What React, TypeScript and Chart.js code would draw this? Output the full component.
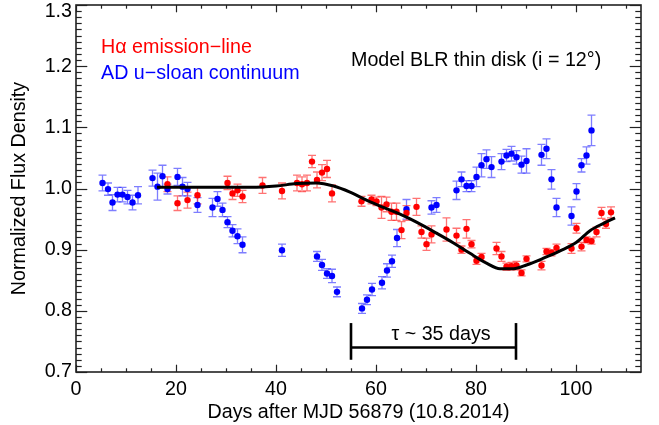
import React, { useEffect, useRef } from 'react';
import { Chart, registerables } from 'chart.js';

Chart.register(...registerables);

const FONT = '"Liberation Sans", Arial, Helvetica, sans-serif';
const FS = 19.7;

// ---- Data ----
const blueDays = [5.3, 6.4, 7.3, 8.3, 9.3, 10.3, 11.3, 12.4, 15.3, 16.3, 17.3, 18.3, 20.3, 21.3, 22.3, 24.3, 27.3, 28.3, 29.3, 30.3, 31.3, 32.3, 33.3, 41.2, 48.2, 49.2, 50.2, 51.2, 52.2, 57.2, 58.2, 59.2, 61.2, 62.2, 63.2, 64.2, 66.1, 71.1, 72.1, 76.1, 77.1, 78.1, 79.1, 80.1, 81.1, 82.1, 83.1, 85.1, 86.1, 87.1, 88.1, 89.1, 90.1, 93.1, 94.1, 95.1, 96.1, 99.1, 100.1, 101.1, 102.1, 103.1];
const blueFlux = [1.009, 0.999, 0.977, 0.99, 0.99, 0.986, 0.977, 0.989, 1.017, 1.003, 1.02, 0.999, 1.019, 1.003, 0.999, 0.973, 0.969, 0.983, 0.965, 0.945, 0.931, 0.922, 0.908, 0.899, 0.889, 0.875, 0.861, 0.857, 0.831, 0.804, 0.818, 0.835, 0.846, 0.866, 0.881, 0.919, 0.966, 0.969, 0.973, 0.997, 1.015, 1.004, 1.004, 1.019, 1.038, 1.048, 1.035, 1.044, 1.054, 1.057, 1.051, 1.039, 1.045, 1.055, 1.065, 1.015, 0.969, 0.955, 0.995, 1.038, 1.054, 1.095];
const blueErr = [0.013, 0.01, 0.013, 0.012, 0.012, 0.011, 0.012, 0.014, 0.013, 0.022, 0.018, 0.008, 0.014, 0.015, 0.011, 0.012, 0.015, 0.012, 0.011, 0.009, 0.01, 0.012, 0.013, 0.01, 0.008, 0.009, 0.008, 0.011, 0.008, 0.008, 0.008, 0.01, 0.01, 0.011, 0.01, 0.014, 0.016, 0.011, 0.012, 0.015, 0.012, 0.009, 0.009, 0.016, 0.019, 0.015, 0.017, 0.013, 0.01, 0.012, 0.011, 0.014, 0.02, 0.017, 0.016, 0.016, 0.015, 0.015, 0.013, 0.011, 0.014, 0.025];

const redDays = [18.3, 20.3, 22.3, 24.3, 30.3, 31.3, 32.3, 33.3, 37.3, 41.2, 44.2, 45.2, 46.2, 47.2, 48.2, 49.2, 50.2, 51.2, 57.1, 59.1, 60.1, 61.1, 62.1, 63.1, 64.1, 65.1, 66.1, 68.1, 69.1, 70.1, 71.1, 74.1, 76.1, 77.1, 78.1, 79.1, 80.1, 81.1, 84.1, 85.1, 86.1, 87.1, 88.1, 89.1, 90.1, 93.1, 94.1, 95.1, 96.1, 99.1, 100.1, 101.1, 102.1, 103.1, 104.1, 105.1, 106.0, 107.0];
const redFlux = [1.007, 0.976, 0.981, 0.989, 1.009, 0.992, 0.997, 0.987, 1.005, 0.996, 1.009, 1.007, 1.009, 1.044, 1.014, 1.026, 1.032, 0.992, 0.979, 0.982, 0.979, 0.969, 0.974, 0.962, 0.962, 0.932, 0.96, 0.97, 0.929, 0.909, 0.925, 0.933, 0.923, 0.9, 0.934, 0.909, 0.882, 0.888, 0.902, 0.889, 0.872, 0.873, 0.874, 0.862, 0.885, 0.874, 0.897, 0.895, 0.903, 0.902, 0.935, 0.905, 0.916, 0.914, 0.929, 0.96, 0.942, 0.961];
const redErr = [0.012, 0.012, 0.013, 0.014, 0.011, 0.01, 0.01, 0.01, 0.013, 0.013, 0.013, 0.012, 0.013, 0.01, 0.013, 0.013, 0.014, 0.014, 0.008, 0.007, 0.007, 0.018, 0.012, 0.014, 0.014, 0.014, 0.012, 0.014, 0.01, 0.01, 0.014, 0.019, 0.012, 0.006, 0.015, 0.006, 0.006, 0.006, 0.01, 0.008, 0.006, 0.006, 0.007, 0.005, 0.005, 0.007, 0.005, 0.005, 0.006, 0.008, 0.008, 0.007, 0.005, 0.005, 0.008, 0.009, 0.007, 0.009];

const modelDays = [16.2, 20, 25, 30, 35, 40, 44.1, 48.1, 51.5, 54.8, 58.1, 61.5, 64.8, 68.1, 72.1, 75.5, 78.8, 82.1, 84.8, 87.5, 90.1, 93.5, 96.8, 100.1, 102.8, 105.5, 107.8];
const modelFlux = [1.002, 1.002, 1.002, 1.002, 1.002, 1.004, 1.008, 1.009, 1.004, 0.994, 0.981, 0.969, 0.958, 0.945, 0.927, 0.911, 0.894, 0.878, 0.869, 0.869, 0.875, 0.886, 0.898, 0.912, 0.931, 0.943, 0.952];

const xTickLabels = ['0', '20', '40', '60', '80', '100'];
const xTickValues = [0, 20, 40, 60, 80, 100];
const yTickLabels = ['0.7', '0.8', '0.9', '1.0', '1.1', '1.2', '1.3'];
const yTickValues = [0.7, 0.8, 0.9, 1.0, 1.1, 1.2, 1.3];

const lagStart = 55;
const lagEnd = 88;
const lagLabel = 'τ ~ 35 days';

const xTitle = 'Days after MJD 56879 (10.8.2014)';
const yTitle = 'Normalized Flux Density';
const legendRed = 'Hα emission−line';
const legendBlue = 'AD u−sloan continuum';
const modelLabel = 'Model BLR thin disk (i = 12°)';

const X_MIN = 0;
const X_MAX = 113;
const Y_MIN = 0.7;
const Y_MAX = 1.3;

const errorBarsPlugin = {
  id: 'errorBars',
  beforeDatasetsDraw(chart: any) {
    const { ctx, chartArea: a, scales } = chart;
    const x = scales.x;
    const y = scales.y;
    ctx.save();
    ctx.beginPath();
    ctx.rect(a.left, a.top, a.right - a.left, a.bottom - a.top);
    ctx.clip();
    const draw = (days: number[], flux: number[], err: number[], color: string) => {
      ctx.strokeStyle = color;
      ctx.lineWidth = 1.3;
      for (let i = 0; i < days.length; i++) {
        const px = x.getPixelForValue(days[i]);
        const p1 = y.getPixelForValue(flux[i] + err[i]);
        const p2 = y.getPixelForValue(flux[i] - err[i]);
        ctx.beginPath();
        ctx.moveTo(px, p1);
        ctx.lineTo(px, p2);
        ctx.moveTo(px - 4, p1);
        ctx.lineTo(px + 4, p1);
        ctx.moveTo(px - 4, p2);
        ctx.lineTo(px + 4, p2);
        ctx.stroke();
      }
    };
    draw(blueDays, blueFlux, blueErr, 'rgba(40,40,255,0.6)');
    draw(redDays, redFlux, redErr, 'rgba(255,40,40,0.65)');
    ctx.restore();
  },
};

const framePlugin = {
  id: 'frame',
  afterDatasetsDraw(chart: any) {
    const { ctx, chartArea: a, scales } = chart;
    const x = scales.x;
    const y = scales.y;
    ctx.save();
    const seg = (x1: number, y1: number, x2: number, y2: number) => {
      ctx.beginPath();
      ctx.moveTo(x1, y1);
      ctx.lineTo(x2, y2);
      ctx.stroke();
    };
    ctx.strokeStyle = '#222';
    ctx.lineWidth = 1.2;
    for (let v = X_MIN; v <= X_MAX; v += 5) {
      const px = Math.round(x.getPixelForValue(v)) + 0.5;
      const len = v % 20 === 0 ? 7.3 : 3.7;
      seg(px, a.bottom, px, a.bottom - len);
      seg(px, a.top, px, a.top + len);
    }
    for (let i = 0; i <= 60; i++) {
      const v = Y_MIN + i * 0.01;
      const py = Math.round(y.getPixelForValue(v)) + 0.5;
      const len = i % 10 === 0 ? 11.3 : 5.7;
      seg(a.left, py, a.left + len, py);
      seg(a.right, py, a.right - len, py);
    }
    ctx.lineWidth = 1.6;
    ctx.strokeRect(a.left, a.top, a.right - a.left, a.bottom - a.top);

    // lag bracket
    ctx.strokeStyle = '#000';
    ctx.lineWidth = 2.6;
    const xs = x.getPixelForValue(lagStart);
    const xe = x.getPixelForValue(lagEnd);
    const yTop = y.getPixelForValue(0.78);
    const yBot = y.getPixelForValue(0.72);
    const yMid = y.getPixelForValue(0.74);
    seg(xs, yTop, xs, yBot);
    seg(xe, yTop, xe, yBot);
    seg(xs, yMid, xe, yMid);
    ctx.fillStyle = '#000';
    ctx.font = `${FS}px ${FONT}`;
    ctx.textAlign = 'center';
    ctx.textBaseline = 'middle';
    ctx.fillText(lagLabel, x.getPixelForValue(73), y.getPixelForValue(0.762));
    ctx.restore();
  },
  afterDraw(chart: any) {
    const { ctx, chartArea: a, scales } = chart;
    const x = scales.x;
    const y = scales.y;
    ctx.save();
    ctx.fillStyle = '#000';
    ctx.font = `${FS}px ${FONT}`;
    ctx.textBaseline = 'middle';
    ctx.textAlign = 'center';
    xTickValues.forEach((v, i) => {
      ctx.fillText(xTickLabels[i], x.getPixelForValue(v), 390);
    });
    ctx.textAlign = 'right';
    yTickValues.forEach((v, i) => {
      const py = Math.max(y.getPixelForValue(v), 12);
      ctx.fillText(yTickLabels[i], a.left - 4, py);
    });
    ctx.textAlign = 'center';
    ctx.fillText(xTitle, (a.left + a.right) / 2, 413);
    ctx.save();
    ctx.translate(20, (a.top + a.bottom) / 2);
    ctx.rotate(-Math.PI / 2);
    ctx.fillText(yTitle, 0, 0);
    ctx.restore();

    ctx.textAlign = 'left';
    ctx.fillStyle = '#ff0000';
    ctx.fillText(legendRed, 101, 47.5);
    ctx.fillStyle = '#0000ff';
    ctx.fillText(legendBlue, 101, 74);
    ctx.fillStyle = '#000';
    ctx.fillText(modelLabel, 351, 61);
    ctx.restore();
  },
};

export default function App() {
  const ref = useRef<HTMLCanvasElement>(null);
  useEffect(() => {
    const canvas = ref.current;
    if (!canvas) return;
    const chart = new Chart(canvas, {
      type: 'scatter',
      data: {
        datasets: [
          {
            type: 'line',
            label: 'model',
            data: modelDays.map((d, i) => ({ x: d, y: modelFlux[i] })),
            borderColor: '#000',
            borderWidth: 3,
            pointRadius: 0,
            showLine: true,
            fill: false,
            cubicInterpolationMode: 'monotone',
            order: 0,
          } as any,
          {
            label: 'blue',
            data: blueDays.map((d, i) => ({ x: d, y: blueFlux[i] })),
            backgroundColor: '#0000ff',
            borderColor: '#0000ff',
            borderWidth: 0,
            pointRadius: 3.2,
            order: 2,
          },
          {
            label: 'red',
            data: redDays.map((d, i) => ({ x: d, y: redFlux[i] })),
            backgroundColor: '#ff0000',
            borderColor: '#ff0000',
            borderWidth: 0,
            pointRadius: 3.2,
            order: 1,
          },
        ],
      },
      options: {
        animation: false,
        responsive: false,
        devicePixelRatio: 1,
        layout: { padding: { top: 5, right: 18, left: 0, bottom: 0 } },
        plugins: { legend: { display: false }, tooltip: { enabled: false }, title: { display: false } },
        scales: {
          x: {
            type: 'linear',
            min: X_MIN,
            max: X_MAX,
            ticks: { display: false },
            grid: { display: false },
            border: { display: false },
            afterFit: (s: any) => { s.height = 53; },
          },
          y: {
            type: 'linear',
            min: Y_MIN,
            max: Y_MAX,
            ticks: { display: false },
            grid: { display: false },
            border: { display: false },
            afterFit: (s: any) => { s.width = 76; },
          },
        },
      },
      plugins: [errorBarsPlugin, framePlugin],
    });
    return () => chart.destroy();
  }, []);
  return (
    <div style={{ position: 'absolute', left: 0, top: 0, width: 659, height: 425, background: '#fff' }}>
      <canvas ref={ref} width={659} height={425} style={{ display: 'block', width: 659, height: 425 }} />
    </div>
  );
}
